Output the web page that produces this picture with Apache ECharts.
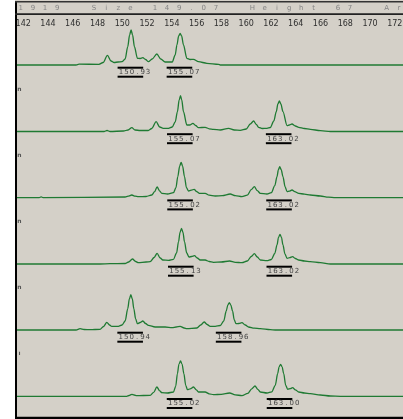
<!DOCTYPE html>
<html><head><meta charset="utf-8">
<script src="https://cdn.jsdelivr.net/npm/echarts@6/dist/echarts.min.js"></script>
<style>
html,body{margin:0;padding:0;}
body{background:linear-gradient(to right,#ffffff 15px,#d4d0c8 15px);}
#c{width:403px;height:419px;}
</style>
</head><body><div id="c"></div>
<script>
// ---- data ----
const tickLabels = [142,144,146,148,150,152,154,156,158,160,162,164,166,168,170,172];
const headerText = '1919  Size 149.07  Height 67  Ar';
const sideMarks = ['', 'n', 'n', 'n', 'n', 'ı'];

const trace1 = [[141.5,0],[146.27,0],[146.51,0.8],[148.12,0.7],[148.45,2.5],[148.80,9.7],[149.09,4],[149.34,2.5],[149.66,3],[149.98,3.3],[150.23,6],[150.44,18.3],[150.59,30],[150.71,35],[150.83,30],[150.98,18.3],[151.22,6.7],[151.44,6.5],[151.66,7.3],[151.88,5.5],[152.11,3.3],[152.41,6],[152.79,11],[153.10,6],[153.46,3],[154.03,3],[154.27,10],[154.41,20],[154.55,29],[154.67,31.7],[154.79,29],[154.94,20],[155.21,6.7],[155.48,5.5],[155.75,5.7],[156.15,3.3],[156.83,1.7],[157.77,0.7],[157.91,0],[172.66,0]];
const trace2 = [[141.5,0],[148.53,0],[148.77,1],[149.01,0],[150.09,0.5],[150.47,1.5],[150.77,3.8],[151.03,1.5],[151.44,1],[152.09,1],[152.38,3],[152.73,9.8],[153.02,4.5],[153.30,3.2],[153.73,3.2],[154.03,4.5],[154.27,9.5],[154.45,19.8],[154.59,31.5],[154.70,35.8],[154.80,31.5],[154.94,19.8],[155.21,6.5],[155.44,6.5],[155.70,8.2],[155.92,6],[156.15,3.8],[156.69,4.2],[157.01,2.7],[157.36,2.2],[157.91,1.5],[158.58,3.2],[159.04,1.5],[159.52,1.2],[160.01,2.5],[160.33,7.5],[160.60,10.5],[160.82,7],[161.00,4.2],[161.30,3],[161.68,3.2],[161.95,4],[162.23,10.5],[162.43,19.8],[162.56,27.5],[162.68,30.5],[162.80,27.5],[162.97,19.8],[163.30,5.8],[163.48,6.5],[163.70,7.5],[163.97,5.5],[164.24,4.2],[164.70,3],[165.18,2.2],[165.99,0.8],[166.80,0],[172.66,0]];
const trace3 = [[141.5,0],[143.3,0],[143.45,0.8],[143.6,0],[150.23,0.7],[150.47,1.5],[150.77,2.7],[151.03,1.5],[151.30,1],[151.92,1.2],[152.38,2.7],[152.61,6],[152.81,10.7],[153.02,6.5],[153.19,4.4],[153.65,3.7],[154.13,5],[154.33,10],[154.48,21],[154.63,31.5],[154.75,35.4],[154.87,31.5],[155.02,21],[155.18,10],[155.34,6.7],[155.56,7.5],[155.80,8.4],[156.01,6],[156.23,4.4],[156.69,4.4],[157.01,2.5],[157.50,1.7],[158.07,2],[158.71,3.7],[159.12,2],[159.66,1],[160.09,2.5],[160.41,8],[160.66,11],[160.90,7],[161.14,4.4],[161.68,3.7],[162.03,5],[162.31,12],[162.49,21],[162.60,28],[162.71,31],[162.83,28],[162.97,21],[163.14,11],[163.30,6],[163.48,6.5],[163.70,7.7],[163.92,6],[164.24,4.4],[164.70,3.5],[165.18,2.7],[165.99,1.7],[166.64,0.5],[167.20,0],[172.66,0]];
const trace4 = [[141.5,0],[148.20,0],[149.01,0.3],[150.23,0.5],[150.51,2],[150.82,5],[151.08,2.5],[151.30,1.3],[151.92,2],[152.25,2.3],[152.57,6.5],[152.81,10.7],[153.06,6],[153.27,4],[153.73,3.7],[154.13,4.7],[154.38,11],[154.54,22.3],[154.66,31.5],[154.78,35.7],[154.90,31.5],[155.02,22.3],[155.20,11],[155.38,7],[155.60,7.5],[155.83,8.3],[156.05,6],[156.29,4],[156.69,4],[157.01,2.5],[157.36,1.7],[157.99,2],[158.66,3],[159.12,1.7],[159.66,1.3],[160.09,3],[160.41,7.5],[160.66,10.3],[160.90,7],[161.14,4],[161.68,3.3],[162.03,4.5],[162.31,10.5],[162.49,19],[162.61,26.5],[162.73,29.7],[162.85,26.5],[162.97,19],[163.13,10],[163.30,5.7],[163.52,6.3],[163.75,7.3],[163.97,5.5],[164.24,4],[164.70,3],[165.18,2.3],[165.99,1.3],[166.80,0],[172.66,0]];
const trace5 = [[141.5,0],[146.27,0],[146.59,1.3],[146.91,0.5],[147.40,0.3],[148.20,0.7],[148.49,3.5],[148.75,7.7],[148.97,5],[149.15,3.7],[149.68,3.7],[149.98,5],[150.23,9],[150.44,21.3],[150.57,31],[150.69,35.3],[150.81,31],[150.93,21.3],[151.08,11],[151.22,6.3],[151.44,7.5],[151.66,9],[151.88,6.5],[152.11,4.7],[152.65,3],[153.46,3],[154.03,2.3],[154.35,3],[154.67,3.7],[154.99,2],[155.21,1.3],[156.02,2],[156.33,5],[156.61,8],[156.85,5.5],[157.10,3.7],[157.50,3.7],[157.91,4.5],[158.19,9],[158.39,19],[158.52,25],[158.64,27.3],[158.76,25],[158.90,19],[159.04,10],[159.18,6.3],[159.41,6.5],[159.66,7.3],[159.93,5],[160.19,3],[160.65,1.8],[161.14,1.3],[161.94,0.3],[162.35,0],[172.66,0]];
const trace6 = [[141.5,0],[150.36,0],[150.55,0.8],[150.77,2],[150.95,1.3],[151.17,0.6],[152.25,1],[152.53,4],[152.79,9.3],[153.02,5.5],[153.19,3.6],[153.65,3.3],[154.13,4.3],[154.31,10],[154.45,22.6],[154.57,32],[154.70,35.3],[154.83,32],[154.97,22.6],[155.12,11],[155.26,6.6],[155.48,7.5],[155.75,9.3],[155.97,6.5],[156.15,4.3],[156.69,4.3],[157.01,2.5],[157.36,1.6],[157.99,2],[158.66,3.3],[159.12,1.5],[159.66,0.6],[160.13,3],[160.45,7.5],[160.71,10.3],[160.94,7],[161.14,4.3],[161.68,3.3],[162.07,4.5],[162.35,11],[162.54,22.6],[162.66,29.5],[162.78,32],[162.90,29.5],[163.03,22.6],[163.19,11],[163.35,7],[163.57,7.7],[163.75,8.6],[163.97,6.5],[164.24,4.3],[164.70,3.3],[165.18,2.6],[165.99,1.3],[166.80,0.3],[167.61,0],[172.66,0]];

const peaks1 = [150.71,154.67]; const calls1 = ['150.93','155.07'];
const peaks2 = [154.70,162.68]; const calls2 = ['155.07','163.02'];
const peaks3 = [154.72,162.71]; const calls3 = ['155.02','163.02'];
const peaks4 = [154.78,162.73]; const calls4 = ['155.13','163.02'];
const peaks5 = [150.69,158.64]; const calls5 = ['150.94','158.96'];
const peaks6 = [154.68,162.75]; const calls6 = ['155.02','163.00'];

// ---- layout ----
const xMin = 141.5, xMax = 172.66;
const panels = [
  {trace:trace1, peaks:peaks1, calls:calls1, base:65,    h:35},
  {trace:trace2, peaks:peaks2, calls:calls2, base:131.5, h:40},
  {trace:trace3, peaks:peaks3, calls:calls3, base:197.7, h:40},
  {trace:trace4, peaks:peaks4, calls:calls4, base:264,   h:40},
  {trace:trace5, peaks:peaks5, calls:calls5, base:330,   h:40},
  {trace:trace6, peaks:peaks6, calls:calls6, base:396.3, h:40}
];

const grids=[], xAxes=[], yAxes=[], series=[];
panels.forEach((p,i)=>{
  grids.push({left:17, width:386, top:p.base-p.h, height:p.h, outerBoundsMode:'none', containLabel:false});
  xAxes.push({type:'value', gridIndex:i, min:xMin, max:xMax, position:'top',
    show:i===0, axisLine:{show:false}, axisTick:{show:false}, splitLine:{show:false},
    axisLabel:{show:i===0, customValues:tickLabels, margin:2, fontSize:8, color:'#2e2e2e',
      fontFamily:'DejaVu Sans'}});
  yAxes.push({type:'value', gridIndex:i, min:0, max:p.h, show:false, splitLine:{show:false}});
  series.push({type:'line', xAxisIndex:i, yAxisIndex:i, data:p.trace, symbol:'none',
    smooth:0.3, smoothMonotone:'x', clip:false, silent:true,
    lineStyle:{color:'#1f7a33', width:1.3}});
  series.push({type:'custom', coordinateSystem:'cartesian2d', xAxisIndex:i, yAxisIndex:i,
    clip:false, silent:true,
    data:p.peaks.map(s=>[s,0]),
    renderItem:(params, api)=>{
      const pt = api.coord([api.value(0), 0]);
      const txt = p.calls[params.dataIndex];
      const cx = pt[0]-0.7, by = pt[1];
      const ch = [
        {type:'rect', shape:{x:cx-12.8, y:by+1.7, width:25.6, height:2}, style:{fill:'#000'}},
        {type:'rect', shape:{x:cx-12.8, y:by+10.7, width:25.6, height:2}, style:{fill:'#000'}}
      ];
      for (let c=0;c<txt.length;c++){
        ch.push({type:'text', x:cx-9.3+c*5.4, y:by+7.3,
          style:{text:txt[c], fill:'#444', font:'7px "DejaVu Sans"', align:'center', verticalAlign:'middle'}});
      }
      return {type:'group', children:ch};
    }});
});

const graphics = [
  {type:'rect', shape:{x:15, y:1, width:2, height:418}, style:{fill:'#000'}, z:100},
  {type:'rect', shape:{x:15, y:1, width:388, height:1.5}, style:{fill:'#333'}, z:100},
  {type:'rect', shape:{x:15, y:13.3, width:388, height:1.6}, style:{fill:'#222'}, z:100},
  {type:'rect', shape:{x:15, y:416.8, width:388, height:2.2}, style:{fill:'#000'}, z:100}
];
for (let i=0;i<headerText.length;i++){
  if (headerText[i]===' ') continue;
  graphics.push({type:'text', x:20.7+i*12.2, y:8.3, z:100,
    style:{text:headerText[i], fill:'#858585', font:'7px "DejaVu Sans"', align:'center', verticalAlign:'middle'}});
}
panels.forEach((p,i)=>{
  if (!sideMarks[i]) return;
  graphics.push({type:'text', x:19.5, y:p.base-42.5, z:100,
    style:{text:sideMarks[i], fill:'#555', font:'bold 6px "DejaVu Sans"', align:'center', verticalAlign:'middle'}});
});

const chart = echarts.init(document.getElementById('c'));
chart.setOption({
  animation:false,
  backgroundColor:'transparent',
  grid:grids, xAxis:xAxes, yAxis:yAxes, series:series,
  graphic:graphics
});
</script>
</body></html>
